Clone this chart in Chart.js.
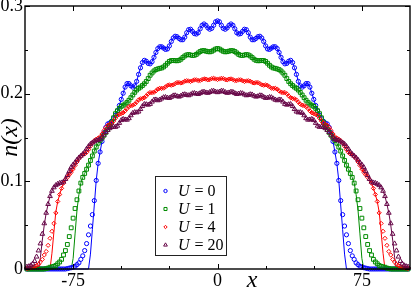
<!DOCTYPE html>
<html><head><meta charset="utf-8">
<script src="https://cdn.jsdelivr.net/npm/chart.js@4.4.1/dist/chart.umd.min.js"></script>
<style>html,body{margin:0;padding:0;background:#fff;overflow:hidden}canvas{display:block}</style>
</head><body>
<canvas id="c" width="415" height="289"></canvas>
<script>
// lattice sites shown on the x axis
const siteMin = -99, siteMax = 99;
// series labels (U values)
const seriesLabels = ["0", "1", "4", "20"];
// density, listed for |x| = 0,1,2,...,99 (profiles are symmetric in x)
const profileU0 = [0.283,0.282,0.278,0.2745,0.2735,0.275,0.278,0.2795,0.278,0.274,
 0.2695,0.268,0.2685,0.271,0.2735,0.273,0.2695,0.2645,0.2615,0.2615,
 0.263,0.265,0.2655,0.2635,0.2595,0.2545,0.251,0.2505,0.252,0.2535,
 0.2535,0.2515,0.247,0.2415,0.2365,0.234,0.2345,0.237,0.238,0.2355,
 0.2295,0.222,0.214,0.209,0.2075,0.209,0.2115,0.2115,0.2075,0.2005,
 0.1935,0.1865,0.1805,0.1755,0.1715,0.1685,0.1665,0.1655,0.1615,0.1555,
 0.1455,0.1335,0.1205,0.101,0.078,0.062,0.049,0.039,0.029,0.021,
 0.015,0.011,0.007,0.005,0.003,0.002,0.0015,0.001,0.0005,0,
 0,0,0,0,0,0,0,0,0,0, 0,0,0,0,0,0,0,0,0,0];
const profileU1 = [0.2515,0.2509,0.2496,0.2483,0.2477,0.2479,0.2485,0.2491,0.249,0.2481,
 0.2465,0.2448,0.2438,0.2436,0.2441,0.2446,0.2442,0.243,0.2412,0.2393,
 0.238,0.2375,0.2376,0.2379,0.2378,0.2368,0.2347,0.2324,0.2305,0.2293,
 0.2289,0.2282,0.2274,0.2259,0.2236,0.221,0.2172,0.2139,0.2113,0.2093,
 0.2075,0.2061,0.2041,0.2015,0.1985,0.1954,0.1925,0.1901,0.1882,0.1868,
 0.1855,0.1832,0.1805,0.1772,0.1725,0.1675,0.1628,0.159,0.1558,0.1525,
 0.1495,0.1467,0.1435,0.1392,0.1345,0.129,0.1238,0.1185,0.1138,0.109,
 0.1045,0.098,0.089,0.079,0.069,0.058,0.047,0.037,0.028,0.021,
 0.016,0.011,0.008,0.006,0.004,0.003,0.0025,0.002,0.001,0.0005,
 0,0,0,0,0,0,0,0,0,0];
const profileU4 = [0.2162,0.2167,0.2175,0.2172,0.2161,0.2158,0.2165,0.2169,0.2161,0.2150,
 0.2150,0.2158,0.2158,0.2147,0.2139,0.2144,0.2148,0.2142,0.2128,0.2122,
 0.2127,0.2127,0.2115,0.2100,0.2096,0.2100,0.2094,0.2078,0.2063,0.2060,
 0.2061,0.2053,0.2032,0.2015,0.2012,0.2013,0.1999,0.1974,0.1953,0.1945,
 0.1942,0.1929,0.1904,0.1881,0.1868,0.1864,0.1853,0.1830,0.1803,0.1782,
 0.1773,0.1764,0.1751,0.1720,0.1687,0.1666,0.1651,0.1639,0.1614,0.1579,
 0.1540,0.1510,0.1492,0.1481,0.1465,0.1441,0.1401,0.1361,0.1330,0.1313,
 0.1304,0.1287,0.1259,0.1221,0.1181,0.1140,0.1103,0.1074,0.1046,0.1020,
 0.0979,0.092,0.085,0.077,0.064,0.052,0.043,0.035,0.027,0.020,
 0.016,0.011,0.008,0.005,0.004,0.003,0.002,0.0015,0.001,0.0005];
const profileU20 = [0.2015,0.2021,0.2031,0.2030,0.2017,0.2008,0.2012,0.2021,0.2018,0.2005,
 0.1995,0.1999,0.2006,0.2003,0.1990,0.1980,0.1984,0.1992,0.1989,0.1975,
 0.1965,0.1970,0.1980,0.1978,0.1962,0.1950,0.1952,0.1960,0.1958,0.1944,
 0.1930,0.1923,0.1932,0.1930,0.1908,0.1882,0.1873,0.1878,0.1880,0.1857,
 0.1823,0.1795,0.1785,0.1788,0.1779,0.1752,0.1719,0.1702,0.1704,0.1710,
 0.1697,0.1665,0.1633,0.1620,0.1623,0.1618,0.1605,0.1585,0.156,0.153,
 0.150,0.148,0.147,0.1465,0.1455,0.144,0.1425,0.140,0.137,0.1335,
 0.131,0.129,0.127,0.1245,0.1215,0.119,0.116,0.1115,0.107,0.1025,
 0.0995,0.0985,0.098,0.097,0.0955,0.093,0.089,0.083,0.074,0.064,
 0.052,0.040,0.029,0.021,0.014,0.009,0.006,0.004,0.003,0.0025];
// solid-line curves: same as the symbols in the bulk, different at the edges
const lineTailStart = [63, 72, 84, 90];   // |x| where the line leaves the symbols
const lineTailU0 = [0.101,0.073,0.045,0.017,0];
const lineTailU1 = [0.085,0.067,0.040,0.012,0];
const lineTailU4 = [0.065,0.042,0.018,0];
const lineTailU20 = [0.050,0.033,0.013,0];
// axis ticks
const xMajorTicks = [-75, 0, 75];
const xMinorTicks = [-50, -25, 25, 50];
const yMajorTicks = [0, 0.1, 0.2, 0.3];
const yMinorTicks = [0.05, 0.15, 0.25];
const yTickLabels = ["0", "0.1", "0.2", "0.3"];
const xTickLabels = ["-75", "0", "75"];

const colors = ["rgb(0,0,255)", "rgb(0,139,0)", "rgb(255,0,0)", "rgb(103,7,72)"];
const styles = ["circle", "rect", "rectRot", "triangle"];
const radii = [2.1, 2.7, 2.1, 2.7];
const profiles = [profileU0, profileU1, profileU4, profileU20];
const tails = [lineTailU0, lineTailU1, lineTailU4, lineTailU20];

const sites = [];
for (let s = siteMin; s <= siteMax; s++) sites.push(s);

function markerPoints(p) { return sites.map(s => ({x: s, y: p[Math.abs(s)]})); }
function linePoints(p, tail, start) {
  return sites.map(s => {
    const k = Math.abs(s);
    let v;
    if (k < start) v = p[k];
    else v = (k - start < tail.length) ? tail[k - start] : 0;
    return {x: s, y: v};
  });
}

const datasets = [];
for (let i = 0; i < 4; i++) {
  datasets.push({
    label: "line U=" + seriesLabels[i],
    data: linePoints(profiles[i], tails[i], lineTailStart[i]),
    showLine: true, borderColor: colors[i], borderWidth: 1, pointRadius: 0,
    fill: false, order: 20 - i, clip: false
  });
}
for (let i = 0; i < 4; i++) {
  datasets.push({
    label: "U=" + seriesLabels[i],
    data: markerPoints(profiles[i]),
    showLine: false, pointStyle: styles[i], pointRadius: radii[i],
    pointBorderWidth: 1, pointBorderColor: colors[i],
    pointBackgroundColor: "rgba(0,0,0,0)", order: 10 - i, clip: false
  });
}

const FONT = '"Liberation Serif", "Times New Roman", serif';

const decor = {
  id: 'decor',
  afterDatasetsDraw(chart) {
    const {ctx, chartArea: a, scales: {x, y}} = chart;
    ctx.save();
    ctx.strokeStyle = '#000';
    ctx.lineWidth = 1;
    const seg = (x1, y1, x2, y2) => { ctx.beginPath(); ctx.moveTo(x1, y1); ctx.lineTo(x2, y2); ctx.stroke(); };
    const xt = (vals, len) => vals.forEach(v => { const p = Math.round(x.getPixelForValue(v)) + 0.5; seg(p, a.bottom, p, a.bottom - len); seg(p, a.top, p, a.top + len); });
    const yt = (vals, len) => vals.forEach(v => { const p = Math.round(y.getPixelForValue(v)) + 0.5; seg(a.left, p, a.left + len, p); seg(a.right, p, a.right - len, p); });
    xt(xMajorTicks, 5); xt(xMinorTicks, 3);
    yt(yMajorTicks, 5); yt(yMinorTicks, 3);
    ctx.lineWidth = 1.4;
    ctx.strokeRect(a.left, a.top, a.right - a.left, a.bottom - a.top);

    // axis titles
    ctx.fillStyle = '#000';
    ctx.font = 'italic 24px ' + FONT;
    ctx.textAlign = 'center';
    ctx.textBaseline = 'alphabetic';
    ctx.fillText('x', 252, 287);
    ctx.save();
    ctx.translate(17, 137.5);
    ctx.rotate(-Math.PI / 2);
    ctx.fillText('n(x)', 0, 0);
    ctx.restore();

    // legend
    const bx = 155.5, by = 176.5, bw = 71, bh = 79;
    ctx.fillStyle = '#fff';
    ctx.fillRect(bx, by, bw, bh);
    ctx.lineWidth = 1;
    ctx.strokeStyle = '#222';
    ctx.strokeRect(bx, by, bw, bh);
    const rowsY = [196, 214, 232, 250];
    for (let i = 0; i < 4; i++) {
      ctx.strokeStyle = colors[i];
      ctx.fillStyle = 'rgba(0,0,0,0)';
      ctx.lineWidth = 1;
      Chart.helpers.drawPoint(ctx, {pointStyle: styles[i], radius: radii[i] * 0.8, borderWidth: 1, rotation: 0}, 165.5, rowsY[i] - 5);
      ctx.fillStyle = '#000';
      ctx.textAlign = 'left';
      ctx.font = 'italic 16px ' + FONT;
      ctx.fillText('U', 178, rowsY[i]);
      const w = ctx.measureText('U').width;
      ctx.font = '16px ' + FONT;
      ctx.fillText(' = ' + seriesLabels[i], 178 + w + 1, rowsY[i]);
    }
    ctx.restore();
  }
};

new Chart(document.getElementById('c'), {
  type: 'scatter',
  data: { datasets },
  options: {
    responsive: false, animation: false, devicePixelRatio: 1,
    layout: { padding: { left: 0, right: 1, top: 6, bottom: 0 } },
    plugins: { legend: { display: false }, tooltip: { enabled: false } },
    scales: {
      x: {
        type: 'linear', min: -100, max: 100,
        grid: { display: false, drawTicks: false }, border: { display: false },
        afterBuildTicks: s => { s.ticks = xMajorTicks.map(v => ({value: v})); },
        afterFit: s => { s.height = 20; s.paddingLeft = 0; s.paddingRight = 0; },
        ticks: { autoSkip: false, maxRotation: 0, padding: 1, color: '#000',
          font: { family: FONT, size: 18 },
          callback: (v) => xTickLabels[xMajorTicks.indexOf(v)] }
      },
      y: {
        type: 'linear', min: 0, max: 0.3,
        grid: { display: false, drawTicks: false }, border: { display: false },
        afterBuildTicks: s => { s.ticks = yMajorTicks.map(v => ({value: v})); },
        afterFit: s => { s.width = 25; s.paddingTop = 0; s.paddingBottom = 0; },
        ticks: { autoSkip: false, padding: 2, color: '#000',
          font: { family: FONT, size: 18 },
          callback: (v) => yTickLabels[yMajorTicks.findIndex(t => Math.abs(t - v) < 1e-9)] }
      }
    }
  },
  plugins: [decor]
});
</script>
</body></html>
